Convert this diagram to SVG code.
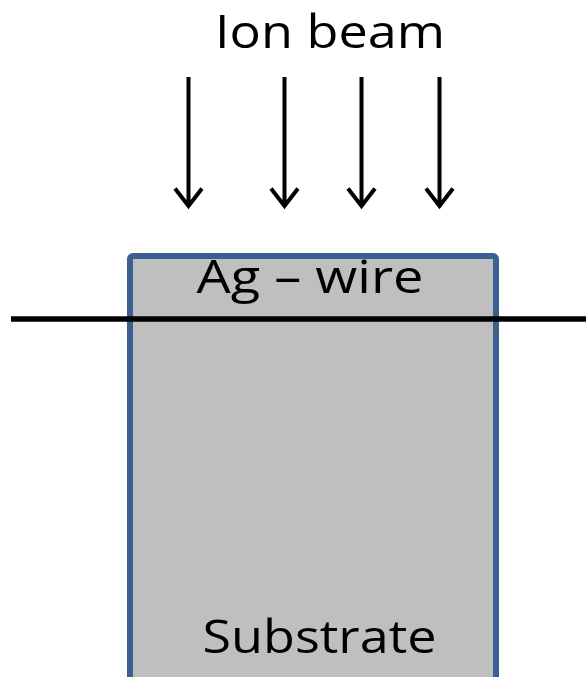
<svg xmlns="http://www.w3.org/2000/svg" width="586" height="677" viewBox="0 0 586 677">
<style>
.t{font-family:"Open Sans","DejaVu Sans",sans-serif;font-size:46px;fill:#000;text-anchor:middle}
.arr{stroke:#000;stroke-width:4;fill:none;stroke-linecap:butt}
</style>
<rect width="586" height="677" fill="#fff"/>
<g id="substrate">
<rect x="130" y="256" width="366" height="424" rx="3" fill="#bfbfbf" stroke="#3b5f8e" stroke-width="6"/>
<text class="t" x="319.5" y="653" textLength="234" lengthAdjust="spacingAndGlyphs">Substrate</text>
</g>
<g id="wire">
<text class="t" x="310" y="293" textLength="227" lengthAdjust="spacingAndGlyphs">Ag – wire</text>
</g>
<g id="beam">
<text class="t" x="330" y="48" style="font-size:45px" textLength="230" lengthAdjust="spacingAndGlyphs">Ion beam</text>
</g>
<g id="connectors">
<line x1="11" y1="319" x2="586" y2="319" stroke="#000" stroke-width="5.5"/>
<g class="arr">
<path d="M188.5 77V206M175 188.5L188.5 206L202 188.5"/>
<path d="M284.5 77V206M271 188.5L284.5 206L298 188.5"/>
<path d="M361.5 77V206M348 188.5L361.5 206L375 188.5"/>
<path d="M439.5 77V206M426 188.5L439.5 206L453 188.5"/>
</g>
</g>
</svg>
